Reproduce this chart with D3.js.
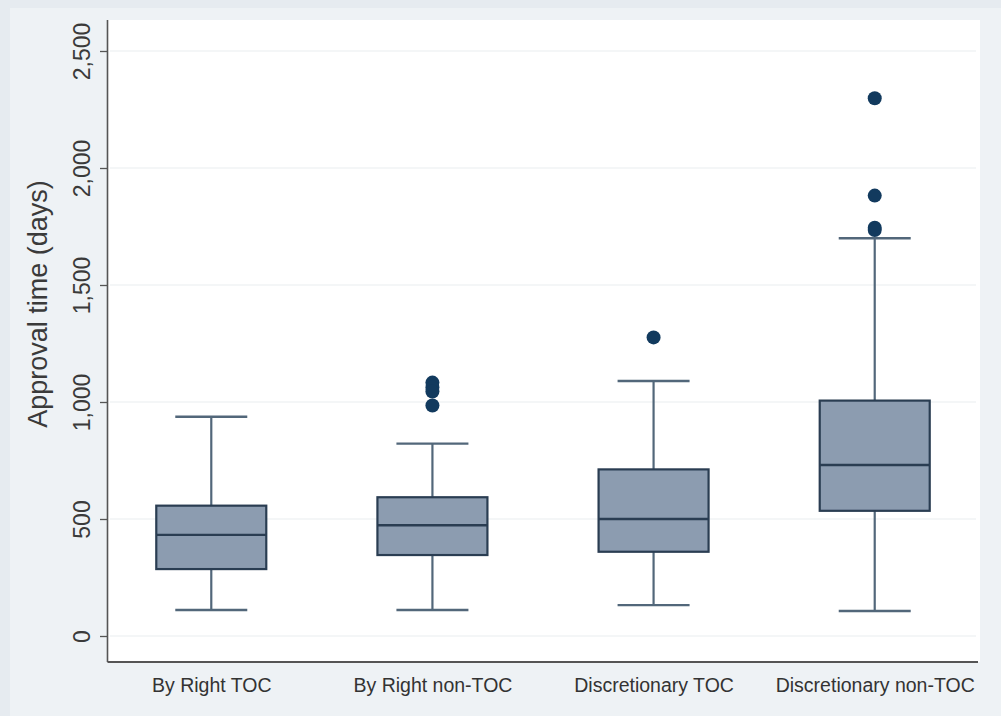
<!DOCTYPE html>
<html>
<head>
<meta charset="utf-8">
<script src="https://cdn.jsdelivr.net/npm/d3@7"></script>
<style>
  html, body { margin: 0; padding: 0; background: #e6ebf0; }
  svg { display: block; }
</style>
</head>
<body>
<svg id="chart" width="1001" height="716"></svg>
<script>
// ---- data ----
const categories = ["By Right TOC", "By Right non-TOC", "Discretionary TOC", "Discretionary non-TOC"];
const lowerWhisker = [111, 111, 132, 107];
const q1 = [286, 346, 360, 535];
const median = [432, 473, 500, 731];
const q3 = [557, 593, 712, 1006];
const upperWhisker = [937, 822, 1090, 1700];
const outliers = [
  [],
  [1083, 1062, 1045, 985],
  [1276],
  [2298, 1882, 1745, 1735]
];
const yTicks = [0, 500, 1000, 1500, 2000, 2500];
const yLabel = "Approval time (days)";

// ---- layout ----
const W = 1001, H = 716;
const svg = d3.select("#chart");
const plot = { left: 108, right: 980, top: 20, bottom: 662 };
const font = "Liberation Sans, Arial, sans-serif";

svg.append("rect").attr("x", 0).attr("y", 0).attr("width", W).attr("height", H).attr("fill", "#e6ebf0");
svg.append("rect").attr("x", 10).attr("y", 8).attr("width", W - 10).attr("height", H - 8).attr("fill", "#eef2f5");
svg.append("rect").attr("x", plot.left).attr("y", plot.top)
  .attr("width", plot.right - plot.left).attr("height", plot.bottom - plot.top).attr("fill", "#ffffff");

const y = d3.scaleLinear().domain([0, 2500]).range([636, 51]);
const x = d3.scalePoint().domain(categories).range([plot.left, plot.right - 2]).padding(0.467);

// grid
svg.append("g").selectAll("line").data(yTicks).join("line")
  .attr("x1", plot.left + 2).attr("x2", plot.right - 4)
  .attr("y1", d => y(d)).attr("y2", d => y(d))
  .attr("stroke", "#eaedf0").attr("stroke-width", 1.2);

// y axis
const yAxis = d3.axisLeft(y).tickValues(yTicks).tickSize(8).tickPadding(0)
  .tickFormat(d3.format(","));
const gy = svg.append("g").attr("transform", `translate(${plot.left},0)`).call(yAxis);
gy.select(".domain").attr("d", `M-0.5,${plot.top}V${plot.bottom}`).attr("stroke", "#555").attr("stroke-width", 1.6);
gy.selectAll(".tick line").attr("stroke", "#555").attr("stroke-width", 1.3);
gy.selectAll(".tick text")
  .attr("transform", "translate(-26,0) rotate(-90)")
  .attr("x", 0).attr("y", 0).attr("dy", "0.35em")
  .attr("text-anchor", "middle")
  .attr("font-family", font)
  .attr("font-size", 23).attr("fill", "#3a3a3a");

// x axis
const xAxis = d3.axisBottom(x).tickSize(0).tickPadding(16);
const gx = svg.append("g").attr("transform", `translate(0,${plot.bottom})`).call(xAxis);
gx.select(".domain").attr("d", `M${plot.left - 0.5},0H${plot.right - 2}`).attr("stroke", "#555").attr("stroke-width", 1.8);
gx.selectAll(".tick text")
  .attr("font-family", font)
  .attr("font-size", 19.5).attr("fill", "#333");

// y label
svg.append("text")
  .attr("transform", `translate(38,304) rotate(-90)`)
  .attr("text-anchor", "middle").attr("dy", "0.35em")
  .attr("font-family", font)
  .attr("font-size", 27).attr("fill", "#3a3a3a")
  .text(yLabel);

// boxes
const boxW = 110, capW = 72;
const whiskerColor = "#52677a", boxStroke = "#2a3d52", boxFill = "#8c9cb0", dotColor = "#123a5e";
const data = categories.map((c, i) => ({
  c, lo: lowerWhisker[i], q1: q1[i], med: median[i], q3: q3[i], hi: upperWhisker[i], out: outliers[i]
}));
const g = svg.append("g").selectAll("g").data(data).join("g")
  .attr("transform", d => `translate(${x(d.c)},0)`);

// whiskers
g.append("line").attr("x1", 0).attr("x2", 0).attr("y1", d => y(d.hi)).attr("y2", d => y(d.q3))
  .attr("stroke", whiskerColor).attr("stroke-width", 2.2);
g.append("line").attr("x1", 0).attr("x2", 0).attr("y1", d => y(d.q1)).attr("y2", d => y(d.lo))
  .attr("stroke", whiskerColor).attr("stroke-width", 2.2);
g.append("line").attr("x1", -capW / 2).attr("x2", capW / 2).attr("y1", d => y(d.hi)).attr("y2", d => y(d.hi))
  .attr("stroke", whiskerColor).attr("stroke-width", 2.4);
g.append("line").attr("x1", -capW / 2).attr("x2", capW / 2).attr("y1", d => y(d.lo)).attr("y2", d => y(d.lo))
  .attr("stroke", whiskerColor).attr("stroke-width", 2.4);

// box
g.append("rect").attr("x", -boxW / 2).attr("width", boxW)
  .attr("y", d => y(d.q3)).attr("height", d => y(d.q1) - y(d.q3))
  .attr("fill", boxFill).attr("stroke", boxStroke).attr("stroke-width", 2.2);
g.append("line").attr("x1", -boxW / 2).attr("x2", boxW / 2)
  .attr("y1", d => y(d.med)).attr("y2", d => y(d.med))
  .attr("stroke", boxStroke).attr("stroke-width", 2.4);

// outliers
g.selectAll("circle").data(d => d.out).join("circle")
  .attr("cx", 0).attr("cy", v => y(v)).attr("r", 7).attr("fill", dotColor);
</script>
</body>
</html>
